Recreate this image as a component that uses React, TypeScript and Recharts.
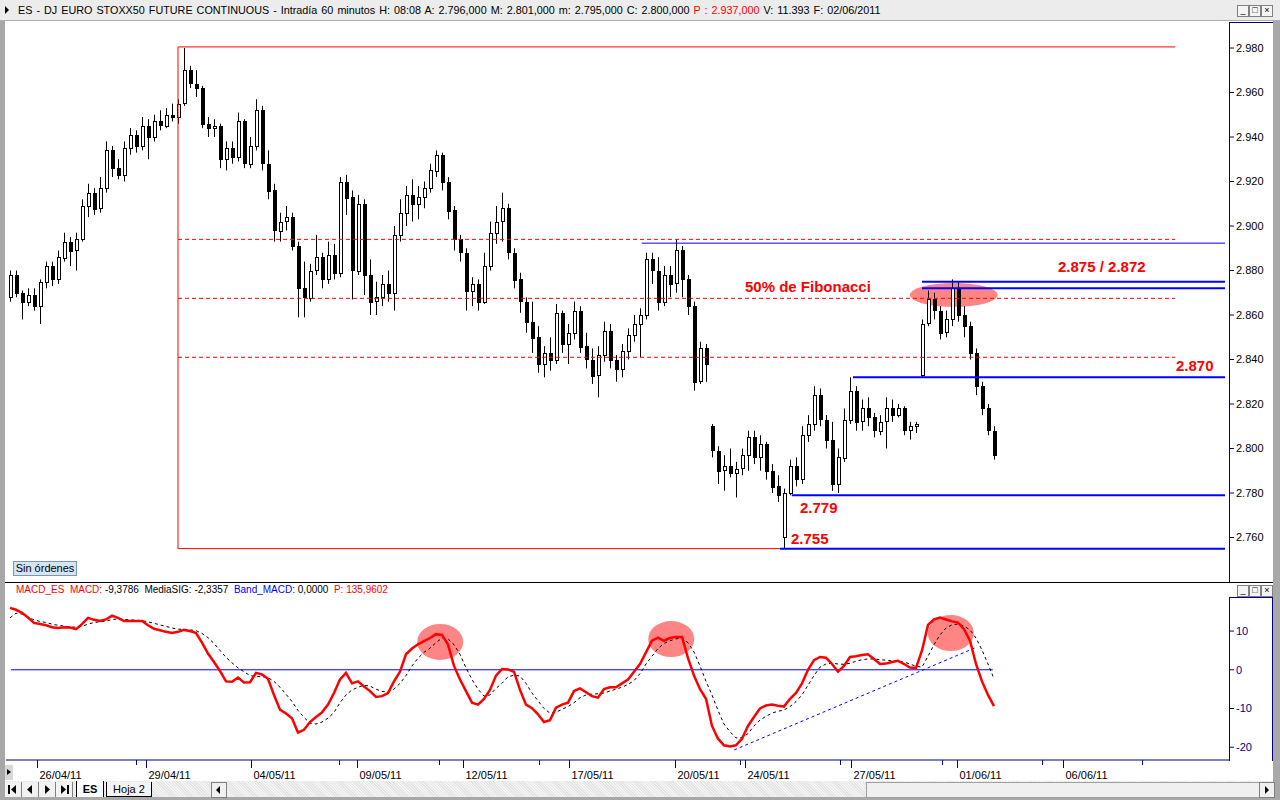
import React from 'react';
import { ComposedChart, Bar, Line, XAxis, YAxis, ReferenceLine, ReferenceDot } from 'recharts';

const FONT = "'Liberation Sans', Arial, sans-serif";

// hourly bars [open, high, low, close]
const ohlc: [number, number, number, number][] = [
  [2868, 2880, 2866, 2878], [2878, 2880, 2868, 2870], [2870, 2871, 2858, 2866], [2866, 2872, 2864, 2869],
  [2869, 2872, 2862, 2864], [2864, 2876, 2856, 2875], [2875, 2884, 2872, 2882], [2882, 2884, 2873, 2876],
  [2876, 2889, 2874, 2886], [2886, 2897, 2884, 2893], [2893, 2895, 2882, 2889], [2889, 2897, 2880, 2894],
  [2894, 2912, 2893, 2909], [2909, 2919, 2904, 2915], [2915, 2917, 2905, 2908], [2908, 2922, 2906, 2917],
  [2917, 2938, 2915, 2934], [2934, 2936, 2922, 2926], [2926, 2930, 2921, 2923], [2923, 2938, 2920, 2935],
  [2935, 2944, 2932, 2941], [2941, 2943, 2933, 2936], [2936, 2949, 2934, 2945], [2945, 2948, 2930, 2940],
  [2940, 2950, 2938, 2947], [2947, 2952, 2943, 2945], [2945, 2953, 2944, 2950], [2950, 2955, 2947, 2949],
  [2949, 2957, 2946, 2955], [2955, 2980, 2954, 2970], [2970, 2972, 2962, 2964], [2964, 2970, 2958, 2962],
  [2962, 2963, 2944, 2946], [2946, 2949, 2940, 2944], [2944, 2948, 2940, 2945], [2945, 2946, 2926, 2930],
  [2930, 2938, 2925, 2935], [2935, 2938, 2928, 2931], [2931, 2951, 2929, 2947], [2947, 2948, 2926, 2928],
  [2928, 2940, 2926, 2936], [2936, 2957, 2934, 2952], [2952, 2954, 2925, 2928], [2928, 2934, 2912, 2916],
  [2916, 2919, 2893, 2898], [2898, 2906, 2893, 2902], [2902, 2909, 2898, 2904], [2904, 2906, 2889, 2891],
  [2891, 2893, 2859, 2872], [2872, 2884, 2859, 2868], [2868, 2883, 2866, 2880], [2880, 2896, 2878, 2886],
  [2886, 2888, 2872, 2876], [2876, 2893, 2874, 2887], [2887, 2892, 2876, 2879], [2879, 2922, 2877, 2920],
  [2920, 2923, 2905, 2913], [2913, 2916, 2867, 2880], [2880, 2914, 2878, 2910], [2910, 2912, 2869, 2878],
  [2878, 2885, 2860, 2866], [2866, 2875, 2860, 2868], [2868, 2878, 2864, 2874], [2874, 2880, 2866, 2870],
  [2870, 2900, 2862, 2896], [2896, 2912, 2893, 2906], [2906, 2918, 2900, 2914], [2914, 2921, 2902, 2910],
  [2910, 2918, 2903, 2913], [2913, 2920, 2908, 2917], [2917, 2928, 2915, 2925], [2925, 2934, 2922, 2932],
  [2932, 2933, 2916, 2920], [2920, 2922, 2903, 2907], [2907, 2909, 2889, 2894], [2894, 2896, 2884, 2888],
  [2888, 2890, 2862, 2871], [2871, 2877, 2864, 2874], [2874, 2876, 2862, 2866], [2866, 2888, 2865, 2882],
  [2882, 2902, 2880, 2897], [2897, 2909, 2892, 2902], [2902, 2915, 2893, 2908], [2908, 2910, 2885, 2888],
  [2888, 2890, 2872, 2876], [2876, 2879, 2861, 2866], [2866, 2868, 2852, 2857], [2857, 2866, 2843, 2850],
  [2850, 2855, 2834, 2838], [2838, 2846, 2832, 2843], [2843, 2850, 2835, 2840], [2840, 2865, 2838, 2861],
  [2861, 2862, 2843, 2847], [2847, 2856, 2838, 2852], [2852, 2866, 2849, 2862], [2862, 2864, 2843, 2846],
  [2846, 2852, 2836, 2840], [2840, 2845, 2829, 2833], [2833, 2846, 2823, 2842], [2842, 2857, 2839, 2853],
  [2853, 2856, 2836, 2840], [2840, 2842, 2830, 2836], [2836, 2847, 2832, 2844], [2844, 2854, 2840, 2851],
  [2851, 2860, 2848, 2856], [2856, 2863, 2841, 2860], [2860, 2888, 2858, 2885], [2885, 2888, 2874, 2880],
  [2880, 2886, 2862, 2866], [2866, 2882, 2864, 2878], [2878, 2882, 2868, 2874], [2874, 2894, 2870, 2889],
  [2889, 2891, 2868, 2876], [2876, 2878, 2860, 2864], [2864, 2866, 2826, 2830], [2830, 2848, 2829, 2845],
  [2845, 2847, 2830, 2838], [2810, 2811, 2796, 2799], [2799, 2801, 2784, 2790], [2790, 2797, 2781, 2792],
  [2792, 2800, 2787, 2789], [2789, 2794, 2778, 2791], [2791, 2800, 2788, 2797], [2797, 2808, 2790, 2805],
  [2805, 2808, 2793, 2796], [2796, 2806, 2790, 2802], [2802, 2803, 2786, 2790], [2790, 2793, 2780, 2783],
  [2783, 2788, 2776, 2779], [2760, 2782, 2755, 2780], [2780, 2795, 2779, 2792], [2792, 2796, 2783, 2786],
  [2786, 2810, 2784, 2806], [2806, 2815, 2803, 2811], [2811, 2828, 2808, 2824], [2824, 2827, 2810, 2813],
  [2813, 2815, 2800, 2804], [2804, 2812, 2781, 2784], [2784, 2800, 2780, 2796], [2796, 2818, 2794, 2813],
  [2813, 2832, 2811, 2826], [2826, 2828, 2808, 2812], [2812, 2822, 2808, 2818], [2818, 2823, 2810, 2814],
  [2814, 2816, 2805, 2808], [2808, 2815, 2806, 2812], [2812, 2823, 2800, 2818], [2818, 2822, 2812, 2815],
  [2815, 2820, 2814, 2818], [2818, 2819, 2806, 2808], [2808, 2812, 2804, 2810], [2810, 2812, 2807, 2811],
  [2833, 2858, 2832, 2856], [2856, 2871, 2855, 2867], [2867, 2870, 2858, 2862], [2862, 2864, 2849, 2852],
  [2852, 2862, 2850, 2858], [2858, 2876, 2855, 2872], [2872, 2875, 2857, 2860], [2860, 2864, 2850, 2855],
  [2855, 2857, 2840, 2843], [2843, 2845, 2824, 2828], [2828, 2830, 2815, 2818], [2818, 2820, 2806, 2808],
  [2808, 2810, 2795, 2797],
];

const macd = [
  16.0, 15.5, 14.7, 13.5, 12.1, 11.8, 11.5, 11.0, 10.8, 11.0, 10.9, 10.5, 11.8, 13.4, 12.9, 12.6,
  13.0, 14.0, 13.4, 12.6, 12.6, 12.6, 12.6, 11.5, 10.6, 10.2, 9.8, 9.5, 9.8, 10.3, 10.0, 9.5,
  7.0, 4.2, 2.0, -0.3, -3.0, -3.1, -2.0, -3.3, -3.2, -0.8, -1.2, -2.3, -6.5, -10.3, -11.3, -12.5,
  -16.2, -15.5, -13.5, -12.2, -11.0, -9.0, -6.0, -2.5, -0.8, -3.5, -3.0, -4.3, -5.5, -7.0, -6.8, -6.0,
  -3.0, -0.5, 4.0, 5.5, 6.6, 7.4, 8.2, 9.2, 9.0, 6.5, 1.0, -2.5, -5.5, -8.5, -9.0, -7.5,
  -5.2, -1.5, 0.2, 0.1, -0.5, -5.2, -9.0, -9.9, -11.5, -13.5, -13.0, -9.8, -9.0, -8.5, -5.5, -4.8,
  -5.8, -6.8, -7.2, -5.0, -4.5, -4.5, -3.5, -2.5, -0.5, 1.5, 4.5, 7.5, 8.3, 7.5, 8.2, 8.5,
  8.5, 3.0, -1.5, -5.0, -7.5, -14.5, -17.8, -19.5, -19.8, -19.5, -17.8, -14.5, -12.2, -10.0, -9.2, -9.0,
  -9.3, -9.5, -7.5, -6.0, -3.5, 0.0, 2.5, 3.3, 3.1, 1.5, -0.5, 1.0, 3.3, 3.5, 3.8, 4.0,
  2.8, 1.5, 1.6, 2.0, 2.3, 1.5, 0.6, 0.5, 5.0, 11.6, 13.0, 13.5, 13.0, 12.5, 12.2, 10.5,
  7.5, 1.5, -3.0, -6.5, -9.4,
];

const signal = [
  13.4, 14.6, 14.4, 13.6, 12.9, 12.5, 12.2, 11.8, 11.5, 11.3, 11.1, 11.0, 11.2, 11.8, 12.2, 12.4,
  12.6, 13.0, 13.1, 13.0, 12.9, 12.8, 12.7, 12.4, 12.0, 11.6, 11.2, 10.8, 10.5, 10.4, 10.3, 10.1,
  9.4, 8.3, 6.8, 5.0, 3.2, 1.8, 0.5, -0.5, -1.5, -1.7, -1.8, -2.0, -3.0, -4.5, -6.3, -8.2,
  -10.5, -12.3, -13.8, -14.0, -13.5, -12.5, -11.0, -8.5, -6.5, -5.2, -4.5, -4.0, -4.2, -5.0, -5.6, -5.7,
  -5.0, -3.5, -1.5, 1.0, 3.0, 4.5, 5.6, 7.0, 8.2, 8.0, 6.5, 4.0, 0.5, -2.5, -5.0, -6.8,
  -6.5, -4.8, -3.5, -1.8, -1.4, -1.6, -3.5, -6.0, -8.0, -10.0, -11.2, -11.0, -10.2, -9.5, -8.5, -7.2,
  -6.5, -6.3, -6.2, -6.0, -5.5, -5.0, -4.5, -3.8, -2.8, -1.0, 1.5, 3.5, 5.5, 6.8, 7.5, 8.0,
  8.2, 7.0, 4.6, 1.0, -3.0, -6.5, -10.5, -14.0, -16.0, -17.6, -17.5, -16.5, -14.5, -13.0, -12.0, -11.2,
  -10.7, -10.4, -9.5, -8.2, -6.5, -4.0, -1.5, 0.7, 1.5, 1.7, 1.5, 1.4, 1.7, 2.2, 2.6, 2.8,
  2.8, 2.6, 2.5, 2.3, 2.1, 2.0, 1.5, 0.9, 0.7, 3.5, 6.5, 9.0, 10.8, 11.6, 11.8, 11.3,
  10.3, 8.2, 5.1, 1.5, -2.3,
];

const priceTicks = [2760, 2780, 2800, 2820, 2840, 2860, 2880, 2900, 2920, 2940, 2960, 2980];
const macdTicks = [-20, -10, 0, 10];

// bar index where each labelled day starts
const dateTicks = [4.5, 22.7, 40.2, 57.8, 75.5, 93.2, 110.9, 122.5, 140.2, 157.9, 175.5];
const dateLabels = ['26/04/11', '29/04/11', '04/05/11', '09/05/11', '12/05/11', '17/05/11',
  '20/05/11', '24/05/11', '27/05/11', '01/06/11', '06/06/11'];
const minorTicks = [21, 54.8, 71.5, 88.2, 121.7, 138.3, 155.3, 172, 188.7];

// fibonacci drawing (swing high / low) and retracements
const swingHigh = 2980.5;
const swingLow = 2755;
const fibLevels = [2894, 2867.5, 2841];
// horizontal support / resistance levels: [price, first bar]
const blueLevels: [number, number][] = [[2875, 152], [2872, 152], [2832, 140.5], [2779, 130.3], [2755, 128.3]];
// highlighted zones: [bar, value]
const priceHighlights: [number, number][] = [[157.3, 2869]];
const macdHighlights: [number, number][] = [[71.7, 7.2], [110.2, 7.95], [156.8, 9.5]];

const rows = ohlc.map(([o, h, l, c], i) => ({ i, o, h, l, c, macd: macd[i], sig: signal[i] }));

const X0 = -0.667;
const X1 = 203.333;
const PRICE_DOMAIN: [number, number] = [2741.8, 2991.7];
const MACD_DOMAIN: [number, number] = [-23.3, 18.8];
const NAVY = '#000080';

function Candle(props: any) {
  const { x, y, width, height, payload } = props;
  if (!payload) return null;
  const { o, h, l, c } = payload;
  const top = Math.min(y, y + height);
  const span = Math.abs(height);
  const k = h > l ? span / (h - l) : 0;
  const cx = Math.round(x + width / 2) + 0.5;
  const yo = top + (h - o) * k;
  const yc = top + (h - c) * k;
  const bt = Math.round(Math.min(yo, yc)) + 0.5;
  const bh = Math.max(Math.round(Math.abs(yc - yo)), 1);
  const up = c >= o;
  return (
    <g>
      <line x1={cx} x2={cx} y1={top} y2={top + span} stroke="#000" strokeWidth={1} />
      <rect x={cx - 1} y={bt} width={3} height={bh} fill={up ? '#fff' : '#000'} stroke="#000" strokeWidth={1} />
    </g>
  );
}

function DateTick(props: any) {
  const { x, y, payload } = props;
  const k = dateTicks.indexOf(payload.value);
  const px = Math.round(x) + 0.5;
  if (k < 0) return <line x1={px} x2={px} y1={y} y2={y + 5} stroke={NAVY} />;
  return (
    <g>
      <line x1={px} x2={px} y1={y} y2={y + 8} stroke={NAVY} />
      <text x={px + 2} y={y + 19} fontSize={11} fontFamily={FONT} fill="#000">{dateLabels[k]}</text>
    </g>
  );
}

const ellipse = (rx: number, ry: number) => (p: any) => (
  <ellipse cx={p.cx} cy={p.cy} rx={rx} ry={ry} fill="#ff8585" />
);

// highlight layer drawn under a panel, sharing its scales
function Highlights({ height, domain, spots, rx, ry }: { height: number; domain: [number, number]; spots: [number, number][]; rx: number; ry: number }) {
  return (
    <ComposedChart width={1268} height={height} data={rows} margin={{ top: 0, right: 44, bottom: 0, left: 0 }}>
      <XAxis dataKey="i" type="number" domain={[X0, X1]} hide allowDataOverflow />
      <YAxis domain={domain} hide allowDataOverflow />
      {spots.map(([i, v]) => (
        <ReferenceDot key={i} x={i} y={v} r={1} ifOverflow="visible" shape={ellipse(rx, ry)} />
      ))}
    </ComposedChart>
  );
}

function WinButtons({ top }: { top: number }) {
  const box: React.CSSProperties = {
    position: 'absolute', top, width: 10, height: 10, border: '1px solid #808080',
    background: '#f4f4f4', fontSize: 9, lineHeight: '9px', textAlign: 'center', color: '#000',
  };
  return (
    <>
      <div style={{ ...box, left: 1237 }}>_</div>
      <div style={{ ...box, left: 1249 }}>□</div>
      <div style={{ ...box, left: 1261 }}>×</div>
    </>
  );
}

function NavButton({ left, kind }: { left: number; kind: string }) {
  return (
    <div style={{ position: 'absolute', left, top: 782, width: 16, height: 15, borderRight: '1px solid #808080', background: '#f2f2f2' }}>
      <svg width={16} height={15}>
        {kind === 'first' && <><rect x={3} y={3} width={2} height={9} fill="#000" /><polygon points="11,3 6,7.5 11,12" fill="#000" /></>}
        {kind === 'prev' && <polygon points="10,3 5,7.5 10,12" fill="#000" />}
        {kind === 'next' && <polygon points="6,3 11,7.5 6,12" fill="#000" />}
        {kind === 'last' && <><polygon points="5,3 10,7.5 5,12" fill="#000" /><rect x={11} y={3} width={2} height={9} fill="#000" /></>}
      </svg>
    </div>
  );
}

export default function App() {
  const label: React.CSSProperties = {
    position: 'absolute', color: '#ff0000', fontWeight: 'bold', fontSize: 15, fontFamily: FONT,
    lineHeight: '15px', whiteSpace: 'nowrap',
  };
  return (
    <div style={{ position: 'absolute', left: 0, top: 0, width: 1280, height: 800, background: '#a8a8a8', fontFamily: FONT, overflow: 'hidden' }}>
      {/* title bar */}
      <div style={{ position: 'absolute', left: 0, top: 0, width: 1280, height: 20, background: '#ececec', borderBottom: '1px solid #b0b0b0' }}>
        <div style={{ position: 'absolute', left: 5, top: 6, width: 0, height: 0, borderTop: '4px solid transparent', borderBottom: '4px solid transparent', borderLeft: '4px solid #000' }} />
        <div style={{ position: 'absolute', left: 18, top: 4, fontSize: 10.8, whiteSpace: 'pre', color: '#000', wordSpacing: 1 }}>
          {'ES - DJ EURO STOXX50 FUTURE CONTINUOUS - Intradía 60 minutos H: 08:08 A: 2.796,000 M: 2.801,000 m: 2.795,000 C: 2.800,000 '}
          <span style={{ color: '#ff0000' }}>P : 2.937,000</span>
          {' V: 11.393 F: 02/06/2011'}
        </div>
        <WinButtons top={5} />
      </div>

      {/* white chart area */}
      <div style={{ position: 'absolute', left: 5, top: 21, width: 1268, height: 760, background: '#fff' }} />

      {/* price panel */}
      <div style={{ position: 'absolute', left: 6, top: 22 }}>
        <Highlights height={556} domain={PRICE_DOMAIN} spots={priceHighlights} rx={44} ry={12} />
      </div>
      <div style={{ position: 'absolute', left: 6, top: 22 }}>
        <ComposedChart width={1268} height={556} data={rows} margin={{ top: 0, right: 0, bottom: 0, left: 0 }}>
          <XAxis dataKey="i" type="number" domain={[X0, X1]} hide allowDataOverflow />
          <YAxis orientation="right" width={44} domain={PRICE_DOMAIN} ticks={priceTicks} interval={0}
            allowDataOverflow axisLine={false} tickLine={{ stroke: NAVY }} tickSize={4} tickMargin={2}
            tick={{ fill: '#000', fontSize: 11, fontFamily: FONT }} tickFormatter={(v: number) => (v / 1000).toFixed(3)} />
          <ReferenceLine segment={[{ x: 28, y: swingHigh }, { x: 194.2, y: swingHigh }]} stroke="#ff0000" strokeWidth={1} />
          <ReferenceLine segment={[{ x: 28, y: swingLow }, { x: 28, y: swingHigh }]} stroke="#ff0000" strokeWidth={1} />
          <ReferenceLine segment={[{ x: 28, y: swingLow }, { x: 128.3, y: swingLow }]} stroke="#ff0000" strokeWidth={1} />
          {fibLevels.map((v) => (
            <ReferenceLine key={v} segment={[{ x: 28, y: v }, { x: 194.2, y: v }]} stroke="#ff0000" strokeWidth={1} strokeDasharray="4 3" />
          ))}
          <ReferenceLine segment={[{ x: 105.3, y: 2892.3 }, { x: 202.5, y: 2892.3 }]} stroke="#0000ff" strokeWidth={1} />
          {blueLevels.map(([v, from]) => (
            <ReferenceLine key={v} segment={[{ x: from, y: v }, { x: 202.5, y: v }]} stroke="#0000ff" strokeWidth={2} />
          ))}
          <Bar dataKey={(d: any) => [d.l, d.h]} shape={Candle} barSize={4} isAnimationActive={false} />
        </ComposedChart>
      </div>
      <div style={{ position: 'absolute', left: 1229, top: 22, width: 44, height: 560, borderLeft: `1px solid ${NAVY}`, borderTop: `1px solid ${NAVY}`, boxSizing: 'border-box' }} />

      {/* annotations */}
      <div style={{ ...label, left: 1058, top: 259 }}>2.875 / 2.872</div>
      <div style={{ ...label, left: 745, top: 279 }}>50% de Fibonacci</div>
      <div style={{ ...label, left: 1176, top: 358 }}>2.870</div>
      <div style={{ ...label, left: 800, top: 500 }}>2.779</div>
      <div style={{ ...label, left: 791, top: 531 }}>2.755</div>

      <div style={{ position: 'absolute', left: 13, top: 561, width: 64, height: 15, boxSizing: 'border-box', border: '1px solid #7a96b8', background: '#d4e4f4', fontSize: 11, lineHeight: '13px', textAlign: 'center', color: '#000' }}>Sin órdenes</div>

      {/* separator */}
      <div style={{ position: 'absolute', left: 5, top: 582, width: 1268, height: 1, background: '#000' }} />
      <WinButtons top={585} />

      {/* MACD header */}
      <div style={{ position: 'absolute', left: 16, top: 584, fontSize: 10, whiteSpace: 'pre', color: '#000' }}>
        <span style={{ color: '#ff0000' }}>MACD_ES  MACD:</span>
        {' -9,3786  MediaSIG: -2,3357  '}
        <span style={{ color: '#0000ff' }}>Band_MACD:</span>
        {' 0,0000  '}
        <span style={{ color: '#ff0000' }}>P: 135,9602</span>
      </div>

      {/* MACD panel */}
      <div style={{ position: 'absolute', left: 6, top: 597 }}>
        <Highlights height={163} domain={MACD_DOMAIN} spots={macdHighlights} rx={23} ry={18} />
      </div>
      <div style={{ position: 'absolute', left: 6, top: 597 }}>
        <ComposedChart width={1268} height={186} data={rows} margin={{ top: 0, right: 0, bottom: 0, left: 0 }}>
          <XAxis dataKey="i" type="number" domain={[X0, X1]} allowDataOverflow ticks={[...dateTicks, ...minorTicks]}
            interval={0} tickSize={0} tickMargin={0} tickLine={false} axisLine={{ stroke: NAVY }} height={23} tick={DateTick} />
          <YAxis orientation="right" width={44} domain={MACD_DOMAIN} ticks={macdTicks} interval={0} allowDataOverflow
            axisLine={false} tickLine={{ stroke: NAVY }} tickSize={4} tickMargin={2}
            tick={{ fill: NAVY, fontSize: 11, fontFamily: FONT }} />
          <ReferenceLine segment={[{ x: 0.17, y: 0 }, { x: 163.8, y: 0 }]} stroke="#0000ff" strokeWidth={1} />
          <ReferenceLine segment={[{ x: 120.7, y: -20.7 }, { x: 161.2, y: 5.9 }]} stroke="#0000ff" strokeWidth={1} strokeDasharray="3 3" />
          <Line dataKey="sig" type="linear" stroke="#000" strokeWidth={1} strokeDasharray="3 3" dot={false} isAnimationActive={false} />
          <Line dataKey="macd" type="linear" stroke="#ff0000" strokeWidth={2.5} dot={false} isAnimationActive={false} />
        </ComposedChart>
      </div>
      <div style={{ position: 'absolute', left: 1229, top: 597, width: 44, height: 164, border: `1px solid ${NAVY}`, borderBottom: 'none', boxSizing: 'border-box' }} />

      {/* small arrow left of date axis */}
      <div style={{ position: 'absolute', left: 5, top: 765, width: 8, height: 15, background: '#d8d8d8' }}>
        <div style={{ position: 'absolute', left: 2, top: 4, width: 0, height: 0, borderTop: '3px solid transparent', borderBottom: '3px solid transparent', borderLeft: '4px solid #000' }} />
      </div>

      {/* sheet tab bar */}
      <div style={{ position: 'absolute', left: 5, top: 781, width: 1268, height: 16, background: 'repeating-linear-gradient(45deg, #e4e4e4 0px, #e4e4e4 1px, #f4f4f4 1px, #f4f4f4 2px)' }} />
      <NavButton left={5} kind="first" />
      <NavButton left={22} kind="prev" />
      <NavButton left={39} kind="next" />
      <NavButton left={56} kind="last" />
      <div style={{ position: 'absolute', left: 76, top: 781, width: 26, height: 16, background: '#fff', borderLeft: '1px solid #000', borderRight: '1px solid #000', fontSize: 11, fontWeight: 'bold', lineHeight: '16px', textAlign: 'center' }}>ES</div>
      <div style={{ position: 'absolute', left: 106, top: 782, width: 44, height: 14, background: '#f4f4f4', border: '1px solid #000', borderTop: 'none', fontSize: 11, lineHeight: '14px', textAlign: 'center' }}>Hoja 2</div>
      <div style={{ position: 'absolute', left: 211, top: 782, width: 14, height: 14, background: '#f0f0f0', border: '1px solid #808080' }}>
        <div style={{ position: 'absolute', left: 4, top: 3, width: 0, height: 0, borderTop: '4px solid transparent', borderBottom: '4px solid transparent', borderRight: '4px solid #000' }} />
      </div>
      <div style={{ position: 'absolute', left: 866, top: 782, width: 392, height: 14, background: '#f0f0f0', border: '1px solid #a0a0a0' }} />
      <div style={{ position: 'absolute', left: 1259, top: 782, width: 14, height: 14, background: '#f0f0f0', border: '1px solid #808080' }}>
        <div style={{ position: 'absolute', left: 5, top: 3, width: 0, height: 0, borderTop: '4px solid transparent', borderBottom: '4px solid transparent', borderLeft: '4px solid #000' }} />
      </div>
    </div>
  );
}
